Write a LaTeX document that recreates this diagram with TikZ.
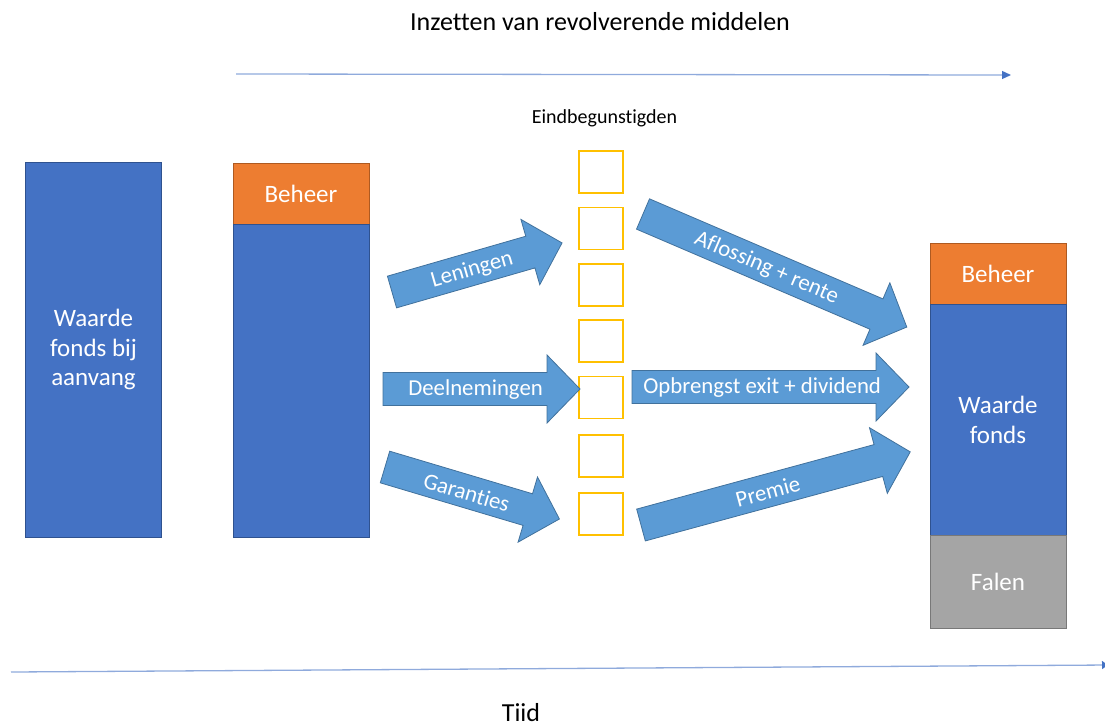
\documentclass[tikz,border=0pt]{standalone}
\usepackage{fontspec}
\setmainfont{Carlito}[Ligatures=NoCommon]
\usetikzlibrary{arrows.meta}
\definecolor{cblue}{HTML}{4472C4}
\definecolor{cblueb}{HTML}{2F528F}
\definecolor{corange}{HTML}{ED7D31}
\definecolor{corangeb}{HTML}{AE5A21}
\definecolor{cgrey}{HTML}{A5A5A5}
\definecolor{cgreyb}{HTML}{787878}
\definecolor{carrow}{HTML}{5B9BD5}
\definecolor{carrowb}{HTML}{41719C}
\definecolor{cyellow}{HTML}{FFC000}
\definecolor{cline}{HTML}{8FAADC}
\tikzset{
  colbox/.style={draw=cblueb, fill=cblue, line width=1pt, minimum width=136pt, text=white, font=\fontsize{25}{29.5}\selectfont, align=center, inner sep=0pt},
  orbox/.style={colbox, draw=corangeb, fill=corange},
  grbox/.style={colbox, draw=cgreyb, fill=cgrey},
  sqbox/.style={draw=cyellow, line width=1.6pt, minimum width=44pt, minimum height=42pt, inner sep=0pt},
  barrow/.style={draw=carrowb, fill=carrow, line width=0.8pt},
  arrtext/.style={text=white, font=\fontsize{22.8}{26}\selectfont, inner sep=0pt},
  plain/.style={font=\fontsize{26}{30}\selectfont, inner sep=0pt},
  timeline/.style={draw=cline, line width=1.3pt}
}
\newcommand\blockarr[5]{%
  \begin{scope}[shift={#2}, rotate=#3]
    \draw[barrow] (0,-16.5) -- ({#4-33},-16.5) -- ({#4-33},-34) -- (#4,0) -- ({#4-33},34) -- ({#4-33},16.5) -- (0,16.5) -- cycle;
    \node[arrtext, rotate=#3] (#1) at ({0.47*#4},1) {#5};
  \end{scope}}
\begin{document}
\begin{tikzpicture}[x=1pt, y=-1pt]
\useasboundingbox (0,0) rectangle (1105,724);
% title and top arrow
\node[plain] (title) at (600,22) {Inzetten van revolverende middelen};
\coordinate (ta) at (236,74);
\coordinate (tb) at (1011,75);
\draw[timeline, -{Triangle[length=9pt,width=8pt,fill=cblue,color=cblue]}] (ta) -- (tb);
% bottom time line
\coordinate (ba) at (11,672);
\coordinate (bb) at (1108,665);
\draw[timeline, -{Triangle[length=6pt,width=8pt,fill=cblue,color=cblue]}] (ba) -- (bb);
\node[plain] (tijd) at (521,713) {Tiid};
% left column
\node[colbox, minimum height=375pt] (start) at (93.5,349.5) {Waarde\\fonds bij\\aanvang};
% second column
\node[orbox, minimum height=61pt] (beheer1) at (301,193.5) {Beheer};
\node[colbox, minimum height=313pt] (fonds1) at (301,380.5) {};
% squares
\node[font=\fontsize{20}{24}\selectfont, inner sep=0pt] (eind) at (604.5,118) {Eindbegunstigden};
\node[sqbox] (s1) at (601,172) {};
\node[sqbox] (s2) at (601,228.5) {};
\node[sqbox] (s3) at (601,285) {};
\node[sqbox] (s4) at (601,341) {};
\node[sqbox] (s5) at (601,397.5) {};
\node[sqbox] (s6) at (601,456) {};
\node[sqbox] (s7) at (601,514) {};
% right column
\node[orbox, minimum height=62pt] (beheer2) at (998,274) {Beheer};
\node[colbox, minimum height=231pt] (fonds2) at (998,420) {Waarde\\fonds};
\node[grbox, minimum height=93pt] (falen) at (998,582) {Falen};
% block arrows
\blockarr{leningen}{(392,292)}{16.1}{177}{Leningen}
\blockarr{deelnemingen}{(383,389)}{0}{197}{Deelnemingen}
\blockarr{garanties}{(385,467)}{-16.6}{182}{Garanties}
\blockarr{aflossing}{(643,214)}{-23.2}{287}{Aflossing + rente}
\blockarr{opbrengst}{(632,387)}{0}{277}{Opbrengst exit + dividend}
\blockarr{premie}{(641,525)}{15.2}{279}{Premie}
\end{tikzpicture}
\end{document}
